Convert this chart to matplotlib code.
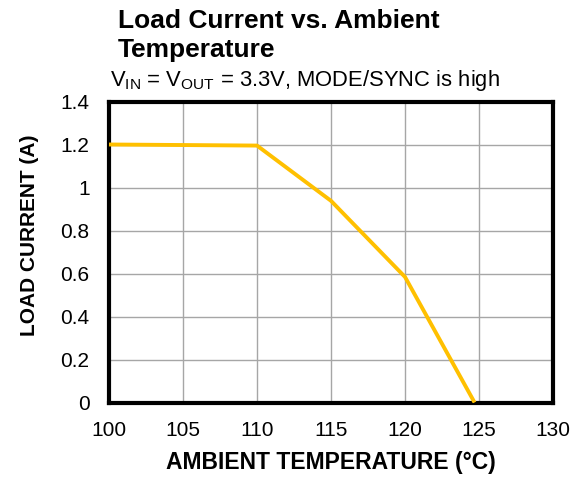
import matplotlib
matplotlib.use("Agg")
import matplotlib.pyplot as plt

# data
temp = [100, 110, 115, 120, 124.7]
current = [1.2, 1.195, 0.938, 0.584, 0.0]
xticks = [100, 105, 110, 115, 120, 125, 130]
yticks = [0, 0.2, 0.4, 0.6, 0.8, 1, 1.2, 1.4]
ylabels = ["0", "0.2", "0.4", "0.6", "0.8", "1", "1.2", "1.4"]

plt.rcParams['font.family'] = ['Liberation Sans', 'DejaVu Sans']
plt.rcParams['mathtext.fontset'] = 'custom'
plt.rcParams['mathtext.rm'] = 'Liberation Sans'

fig = plt.figure(figsize=(5.82, 4.79), dpi=100)
ax = fig.add_axes([109 / 582, 1 - 402.5 / 479, 444 / 582, 301 / 479])

ax.plot(temp, current, color='#FFC000', lw=2.8, solid_capstyle='butt', zorder=3)

ax.set_xlim(100, 130)
ax.set_ylim(0, 1.4)
ax.set_xticks(xticks)
ax.set_yticks(yticks)
ax.set_yticklabels(ylabels)
ax.grid(True, color='#A6A6A6', lw=1)
ax.tick_params(length=0, labelsize=15)
ax.tick_params(axis='x', pad=13)
ax.tick_params(axis='y', pad=14)
for s in ax.spines.values():
    s.set_linewidth(3)
    s.set_color('black')

ax.set_xlabel('AMBIENT TEMPERATURE (°C)', fontsize=16.5, fontweight='bold', labelpad=8)
ax.set_ylabel('LOAD CURRENT (A)', fontsize=15, fontweight='bold')
ax.yaxis.set_label_coords(-0.158, 0.556)

fig.text(118 / 582, 1 - 28 / 479, 'Load Current vs. Ambient', fontsize=19, fontweight='bold')
fig.text(118 / 582, 1 - 57 / 479, 'Temperature', fontsize=19, fontweight='bold')
fig.text(110 / 582, 1 - 86 / 479,
         r'V$_{\mathrm{IN}}$ = V$_{\mathrm{OUT}}$ = 3.3V, MODE/SYNC is high', fontsize=15.8)

fig.savefig('out.png', dpi=100)
